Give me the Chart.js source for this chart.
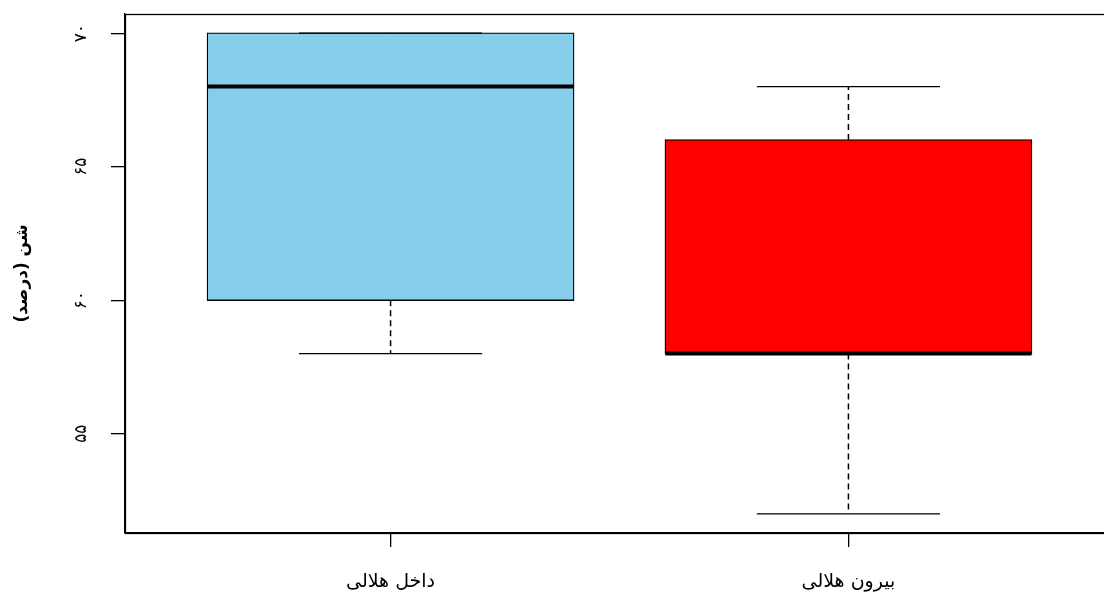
<!DOCTYPE html>
<html>
<head>
<meta charset="utf-8">
<script src="https://cdn.jsdelivr.net/npm/chart.js@4.4.1/dist/chart.umd.min.js"></script>
<style>
  html, body { margin: 0; padding: 0; background: #fff; overflow: hidden; }
  #wrap { width: 1104px; height: 596px; overflow: hidden; }
  canvas { display: block; }
</style>
</head>
<body>
<div id="wrap"><canvas id="c" width="1120" height="596"></canvas></div>
<script>
// ---- data ----
const categories  = ['داخل هلالی', 'بیرون هلالی'];
const whiskerLow  = [58, 52];
const q1          = [60, 58];
const median      = [68, 58];
const q3          = [70, 66];
const whiskerHigh = [70, 68];
const yTicks      = [55, 60, 65, 70];
const yTickLabels = ['۵۵', '۶۰', '۶۵', '۷۰'];
const yTitle = 'شن (درصد)';

// ---- styles ----
const boxColors = ['#87CEEB', '#FF0000'];
const BOX_HALF = 0.4, CAP_HALF = 0.2;
const FONT = '"DejaVu Sans", sans-serif';

// ---- build datasets ----
const datasets = [];
categories.forEach((c, i) => {
  const x = i + 1;
  datasets.push({ type: 'line', order: 0, data: [{x: x - BOX_HALF, y: median[i]}, {x: x + BOX_HALF, y: median[i]}],
    borderColor: '#000', borderWidth: 4, pointRadius: 0, fill: false, borderCapStyle: 'butt' });
  datasets.push({ type: 'line', order: 1, data: [{x: x, y: q3[i]}, {x: x, y: whiskerHigh[i]}],
    borderColor: '#000', borderWidth: 1.5, borderDash: [6, 4], pointRadius: 0, fill: false });
  datasets.push({ type: 'line', order: 1, data: [{x: x, y: q1[i]}, {x: x, y: whiskerLow[i]}],
    borderColor: '#000', borderWidth: 1.5, borderDash: [6, 4], pointRadius: 0, fill: false });
  datasets.push({ type: 'line', order: 1, data: [{x: x - CAP_HALF, y: whiskerHigh[i]}, {x: x + CAP_HALF, y: whiskerHigh[i]}],
    borderColor: '#000', borderWidth: 1.3, pointRadius: 0, fill: false });
  datasets.push({ type: 'line', order: 1, data: [{x: x - CAP_HALF, y: whiskerLow[i]}, {x: x + CAP_HALF, y: whiskerLow[i]}],
    borderColor: '#000', borderWidth: 1.3, pointRadius: 0, fill: false });
});
datasets.push({
  type: 'bar', order: 5,
  data: categories.map((c, i) => ({x: i + 1, y: [q1[i], q3[i]]})),
  backgroundColor: boxColors, borderColor: '#000', borderWidth: 1.3, borderSkipped: false,
  inflateAmount: 0.7,
  barPercentage: 2 * BOX_HALF, categoryPercentage: 1
});

const framePlugin = {
  id: 'frame',
  afterDraw(chart) {
    const a = chart.chartArea, ctx = chart.ctx;
    ctx.save();
    ctx.strokeStyle = '#000';
    ctx.lineWidth = 1.3;
    ctx.strokeRect(Math.round(a.left) + 0.5, Math.round(a.top) + 0.5, a.right - a.left, a.bottom - a.top);
    ctx.restore();
  }
};

new Chart(document.getElementById('c'), {
  type: 'bar',
  data: { datasets },
  plugins: [framePlugin],
  options: {
    responsive: false,
    animation: false,
    devicePixelRatio: 1,
    layout: { padding: { left: 0, right: 6, top: 14, bottom: 0 } },
    plugins: { legend: { display: false }, tooltip: { enabled: false } },
    scales: {
      x: {
        type: 'linear', min: 0.42, max: 2.58, offset: false,
        afterBuildTicks: s => { s.ticks = categories.map((c, i) => ({ value: i + 1 })); },
        afterFit: s => { s.height = 63; s.paddingLeft = 0; s.paddingRight = 0; },
        grid: { offset: false, drawOnChartArea: false, tickLength: 14, color: '#000', lineWidth: 1.3 },
        border: { display: true, color: '#000', width: 1.3 },
        ticks: { color: '#000', padding: 24, font: { family: FONT, size: 19 },
          maxRotation: 0, minRotation: 0,
          callback: v => categories[Math.round(v) - 1] }
      },
      y: {
        type: 'linear', min: 51.28, max: 70.72,
        afterBuildTicks: s => { s.ticks = yTicks.map(v => ({ value: v })); },
        afterFit: s => { s.width = 125; s.paddingTop = 0; s.paddingBottom = 0; },
        grid: { drawOnChartArea: false, tickLength: 14, color: '#000', lineWidth: 1.3 },
        border: { display: true, color: '#000', width: 1.3 },
        ticks: { color: '#000', padding: 20, crossAlign: 'center', minRotation: 90, maxRotation: 90,
          font: { family: FONT, size: 17 },
          callback: v => yTickLabels[yTicks.indexOf(v)] },
        title: { display: true, text: yTitle, color: '#000', padding: { top: 12, bottom: 0 },
          font: { family: FONT, size: 17, weight: 'bold' } }
      }
    }
  }
});
</script>
</body>
</html>
